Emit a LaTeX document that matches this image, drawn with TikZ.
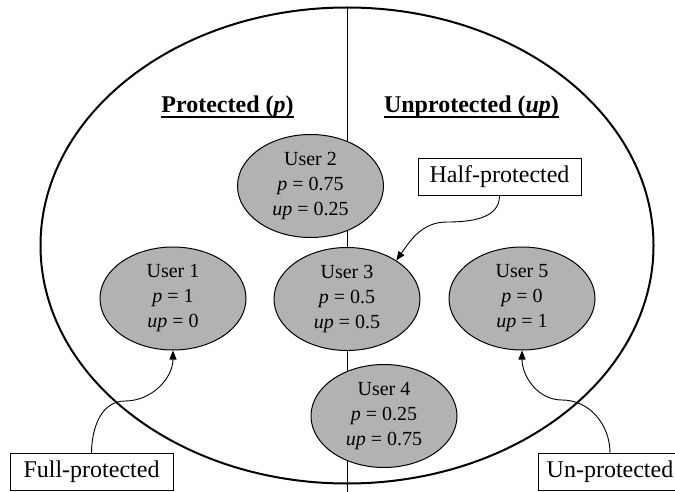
\documentclass[tikz,border=0pt]{standalone}
\usepackage{fontspec}
\setmainfont{Liberation Serif}
\usetikzlibrary{arrows.meta,shapes.geometric}
\tikzset{
  user/.style={ellipse,draw,line width=1pt,fill=gray!60,minimum width=146pt,minimum height=103pt,inner sep=0pt,align=center,font=\fontsize{20}{25}\selectfont},
  label box/.style={rectangle,draw,line width=1pt,fill=white,minimum height=37pt,inner sep=0pt,font=\fontsize{24}{28}\selectfont},
  header/.style={inner sep=0pt,anchor=base,font=\fontsize{24}{28}\selectfont\bfseries},
  conn/.style={line width=0.9pt,-{Triangle[length=9pt,width=7pt]}}
}
\begin{document}
\begin{tikzpicture}[x=1pt,y=-1pt]
\useasboundingbox (0,0) rectangle (675,492);
% outer ellipse and divider
\coordinate (oc) at (347,245.5);
\coordinate (otop) at (347,7.5);
\coordinate (obot) at (347,492);
\draw[line width=2pt] (oc) ellipse [x radius=306.5pt, y radius=238pt];
\draw[line width=1pt] (otop) -- (obot);
% headers
\node[header] (hp) at (227.5,113) {Protected (\textit{p})};
\node[header] (hup) at (471.5,113) {Unprotected (\textit{up})};
\draw[line width=2pt] ([yshift=-4.5pt]hp.base west) -- ([yshift=-4.5pt]hp.base east);
\draw[line width=2pt] ([yshift=-4.5pt]hup.base west) -- ([yshift=-4.5pt]hup.base east);
% users
\node[user] (u2) at (310.5,186) {User 2\\\textit{p} = 0.75\\\textit{up} = 0.25};
\node[user] (u1) at (173,298.5) {User 1\\\textit{p} = 1\\\textit{up} = 0};
\node[user] (u3) at (347,299) {User 3\\\textit{p} = 0.5\\\textit{up} = 0.5};
\node[user] (u5) at (522,298.5) {User 5\\\textit{p} = 0\\\textit{up} = 1};
\node[user] (u4) at (384,416) {User 4\\\textit{p} = 0.25\\\textit{up} = 0.75};
% label boxes
\node[label box,minimum width=163pt] (half) at (499.5,177) {Half-protected};
\node[label box,minimum width=163pt] (full) at (91.5,472) {Full-protected};
\node[label box,minimum width=144pt] (un) at (610,472) {Un-protected};
% connectors
\coordinate (m1) at (125,401);
\coordinate (m2) at (562,400);
\coordinate (m3) at (447,222);
\draw[conn] (full.north) to[out=90,in=180] (m1) to[out=0,in=-90] (u1.south);
\draw[conn] (un.north) to[out=90,in=0] (m2) to[out=180,in=-90] (u5.south);
\draw[conn] (half.south) to[out=-90,in=0] (m3) to[out=180,in=55] (u3.38);
\end{tikzpicture}
\end{document}
